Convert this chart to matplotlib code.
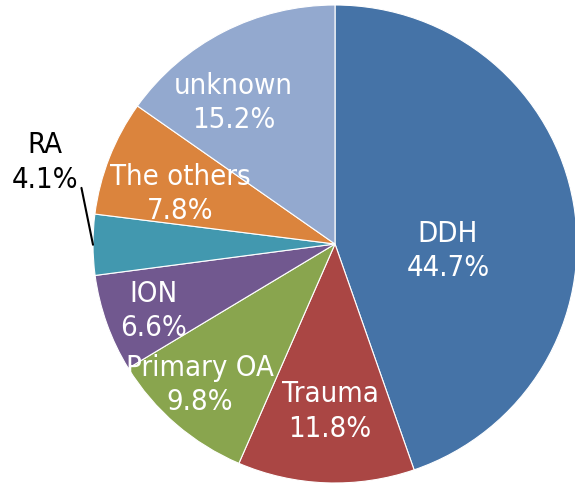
import numpy as np
import matplotlib
matplotlib.use('Agg')
import matplotlib.pyplot as plt

# Data (percent, clockwise from 12 o'clock)
labels = ['DDH', 'Trauma', 'Primary OA', 'ION', 'RA', 'The others', 'unknown']
shares = [44.7, 11.8, 9.8, 6.6, 4.1, 7.8, 15.2]
colors = ['#4573A7', '#AA4644', '#89A54E', '#71588F', '#4298AF', '#DB843D', '#93A9CF']

# label placement (in units of radius), Excel style "best fit"
label_pos = [(0.467, -0.03), (-0.02, -0.70), (-0.56, -0.59), (-0.75, -0.28),
             (-1.20, 0.34), (-0.64, 0.21), (-0.42, 0.59)]
outside = [False, False, False, False, True, False, False]

plt.rcParams['font.family'] = ['DejaVu Sans']
plt.rcParams['font.stretch'] = 'condensed'

fig = plt.figure(figsize=(5.75, 4.88), dpi=100)
W, H = 575.0, 488.0
cx, cy, rx, ry = 335.0, 244.0, 242.0, 239.0
ax = fig.add_axes([(cx - rx) / W, (H - cy - ry) / H, 2 * rx / W, 2 * ry / H])

wedges, _ = ax.pie(shares, colors=colors, startangle=90, counterclock=False,
                   wedgeprops=dict(edgecolor='white', linewidth=0.8))
ax.set_aspect('auto')
ax.set_xlim(-1, 1)
ax.set_ylim(-1, 1)
ax.axis('off')

for w, lab, val, (tx, ty), out in zip(wedges, labels, shares, label_pos, outside):
    txt = '%s\n%.1f%%' % (lab, val)
    if out:
        mid = np.deg2rad((w.theta1 + w.theta2) / 2.0)
        ax.annotate(txt, xy=(np.cos(mid), np.sin(mid)), xytext=(tx, ty),
                    ha='center', va='center', fontsize=21, color='black',
                    linespacing=1.3, annotation_clip=False,
                    arrowprops=dict(arrowstyle='-', color='black', lw=1.5,
                                    shrinkA=1, shrinkB=0,
                                    relpos=(1.05, 0.12)))
    else:
        ax.text(tx, ty, txt, ha='center', va='center', fontsize=21,
                color='white', linespacing=1.3)

fig.savefig('out.png', dpi=100)
